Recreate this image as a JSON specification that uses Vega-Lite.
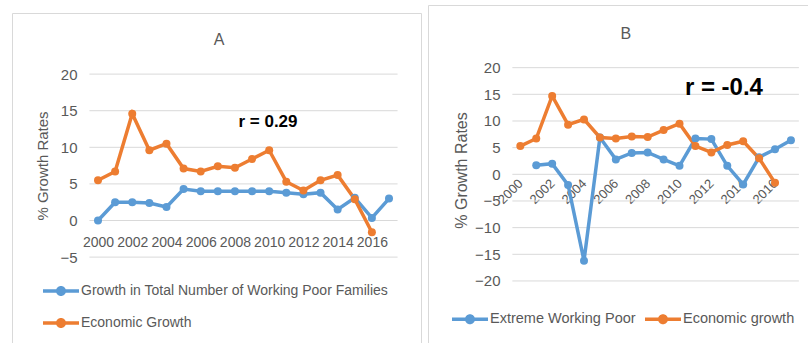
{
  "$schema": "https://vega.github.io/schema/vega-lite/v6.json",
  "background": "white",
  "padding": {"left": 11, "top": 4, "right": 0, "bottom": 0},
  "spacing": 5,
  "config": {
    "view": {"stroke": "#d9d9d9", "strokeWidth": 1},
    "font": "Liberation Sans",
    "axis": {"grid": false, "ticks": false, "domain": false, "labelColor": "#595959", "labelOverlap": false, "labelBound": false, "labelFlush": false, "titleColor": "#595959", "titleFontWeight": "normal"}
  },
  "datasets": {
    "a": [
      {"year": 2000, "series": "Growth in Total Number of Working Poor Families", "value": 0.0},
      {"year": 2001, "series": "Growth in Total Number of Working Poor Families", "value": 2.5},
      {"year": 2002, "series": "Growth in Total Number of Working Poor Families", "value": 2.5},
      {"year": 2003, "series": "Growth in Total Number of Working Poor Families", "value": 2.4},
      {"year": 2004, "series": "Growth in Total Number of Working Poor Families", "value": 1.85},
      {"year": 2005, "series": "Growth in Total Number of Working Poor Families", "value": 4.3},
      {"year": 2006, "series": "Growth in Total Number of Working Poor Families", "value": 4.0},
      {"year": 2007, "series": "Growth in Total Number of Working Poor Families", "value": 4.0},
      {"year": 2008, "series": "Growth in Total Number of Working Poor Families", "value": 4.0},
      {"year": 2009, "series": "Growth in Total Number of Working Poor Families", "value": 4.0},
      {"year": 2010, "series": "Growth in Total Number of Working Poor Families", "value": 4.0},
      {"year": 2011, "series": "Growth in Total Number of Working Poor Families", "value": 3.8},
      {"year": 2012, "series": "Growth in Total Number of Working Poor Families", "value": 3.6},
      {"year": 2013, "series": "Growth in Total Number of Working Poor Families", "value": 3.8},
      {"year": 2014, "series": "Growth in Total Number of Working Poor Families", "value": 1.5},
      {"year": 2015, "series": "Growth in Total Number of Working Poor Families", "value": 3.1},
      {"year": 2016, "series": "Growth in Total Number of Working Poor Families", "value": 0.35},
      {"year": 2017, "series": "Growth in Total Number of Working Poor Families", "value": 3.0},
      {"year": 2000, "series": "Economic Growth", "value": 5.5},
      {"year": 2001, "series": "Economic Growth", "value": 6.7},
      {"year": 2002, "series": "Economic Growth", "value": 14.6},
      {"year": 2003, "series": "Economic Growth", "value": 9.6},
      {"year": 2004, "series": "Economic Growth", "value": 10.5},
      {"year": 2005, "series": "Economic Growth", "value": 7.1},
      {"year": 2006, "series": "Economic Growth", "value": 6.7},
      {"year": 2007, "series": "Economic Growth", "value": 7.4},
      {"year": 2008, "series": "Economic Growth", "value": 7.2},
      {"year": 2009, "series": "Economic Growth", "value": 8.4},
      {"year": 2010, "series": "Economic Growth", "value": 9.6},
      {"year": 2011, "series": "Economic Growth", "value": 5.3},
      {"year": 2012, "series": "Economic Growth", "value": 4.1},
      {"year": 2013, "series": "Economic Growth", "value": 5.5},
      {"year": 2014, "series": "Economic Growth", "value": 6.2},
      {"year": 2015, "series": "Economic Growth", "value": 2.9},
      {"year": 2016, "series": "Economic Growth", "value": -1.6}
    ],
    "b": [
      {"year": 2001, "series": "Extreme Working Poor", "value": 1.7},
      {"year": 2002, "series": "Extreme Working Poor", "value": 2.0},
      {"year": 2003, "series": "Extreme Working Poor", "value": -2.0},
      {"year": 2004, "series": "Extreme Working Poor", "value": -16.2},
      {"year": 2005, "series": "Extreme Working Poor", "value": 6.9},
      {"year": 2006, "series": "Extreme Working Poor", "value": 2.8},
      {"year": 2007, "series": "Extreme Working Poor", "value": 4.0},
      {"year": 2008, "series": "Extreme Working Poor", "value": 4.1},
      {"year": 2009, "series": "Extreme Working Poor", "value": 2.8},
      {"year": 2010, "series": "Extreme Working Poor", "value": 1.6},
      {"year": 2011, "series": "Extreme Working Poor", "value": 6.7},
      {"year": 2012, "series": "Extreme Working Poor", "value": 6.6},
      {"year": 2013, "series": "Extreme Working Poor", "value": 1.6},
      {"year": 2014, "series": "Extreme Working Poor", "value": -1.9},
      {"year": 2015, "series": "Extreme Working Poor", "value": 3.2},
      {"year": 2016, "series": "Extreme Working Poor", "value": 4.7},
      {"year": 2017, "series": "Extreme Working Poor", "value": 6.4},
      {"year": 2000, "series": "Economic growth", "value": 5.3},
      {"year": 2001, "series": "Economic growth", "value": 6.7},
      {"year": 2002, "series": "Economic growth", "value": 14.7},
      {"year": 2003, "series": "Economic growth", "value": 9.3},
      {"year": 2004, "series": "Economic growth", "value": 10.3},
      {"year": 2005, "series": "Economic growth", "value": 6.9},
      {"year": 2006, "series": "Economic growth", "value": 6.7},
      {"year": 2007, "series": "Economic growth", "value": 7.1},
      {"year": 2008, "series": "Economic growth", "value": 7.0},
      {"year": 2009, "series": "Economic growth", "value": 8.3},
      {"year": 2010, "series": "Economic growth", "value": 9.5},
      {"year": 2011, "series": "Economic growth", "value": 5.3},
      {"year": 2012, "series": "Economic growth", "value": 4.1},
      {"year": 2013, "series": "Economic growth", "value": 5.5},
      {"year": 2014, "series": "Economic growth", "value": 6.2},
      {"year": 2015, "series": "Economic growth", "value": 3.0},
      {"year": 2016, "series": "Economic growth", "value": -1.6}
    ],
    "ga": [{"value": -5}, {"value": 0}, {"value": 5}, {"value": 10}, {"value": 15}, {"value": 20}],
    "gb": [{"value": -20}, {"value": -15}, {"value": -10}, {"value": -5}, {"value": 0}, {"value": 5}, {"value": 10}, {"value": 15}, {"value": 20}]
  },
  "resolve": {
    "scale": {"x": "independent", "y": "independent", "color": "independent"},
    "legend": {"color": "independent"}
  },
  "hconcat": [
    {
      "spacing": 5,
      "vconcat": [
        {
          "width": 409,
          "height": 2,
          "view": {"stroke": null},
          "data": {"values": []},
          "mark": {"type": "rule"},
          "encoding": {}
        },
        {
          "width": 409,
          "height": 332,
          "layer": [
            {
              "data": {"name": "ga"},
              "mark": {"type": "rule", "color": "#d9d9d9", "strokeWidth": 1},
              "encoding": {
                "y": {"field": "value", "type": "quantitative", "scale": {"domain": [-17.01, 28.35], "nice": false, "zero": false},
                  "axis": {"values": [-5, 0, 5, 10, 15, 20], "offset": -67, "labelPadding": 2, "labelFontSize": 15, "title": null}},
                "x": {"datum": 1999.5, "type": "quantitative", "scale": {"domain": [1994.976, 2018.869], "nice": false, "zero": false},
                  "axis": {"values": [2000, 2002, 2004, 2006, 2008, 2010, 2012, 2014, 2016], "format": "d", "offset": -111,
                    "labelPadding": 1, "labelBaseline": "top", "labelFontSize": 14, "title": null}},
                "x2": {"datum": 2017.5}
              }
            },
            {
              "data": {"name": "a"},
              "mark": {"type": "line", "strokeWidth": 3.5, "point": {"filled": true, "size": 64, "opacity": 1}},
              "encoding": {
                "x": {"field": "year", "type": "quantitative", "scale": {"domain": [1994.976, 2018.869], "nice": false, "zero": false},
                  "axis": {"values": [2000, 2002, 2004, 2006, 2008, 2010, 2012, 2014, 2016], "format": "d", "offset": -111,
                    "labelPadding": 1, "labelBaseline": "top", "labelFontSize": 14, "title": null}},
                "y": {"field": "value", "type": "quantitative", "scale": {"domain": [-17.01, 28.35], "nice": false, "zero": false},
                  "axis": {"values": [-5, 0, 5, 10, 15, 20], "offset": -67, "labelPadding": 2, "labelFontSize": 15, "title": null}},
                "color": {
                  "field": "series", "type": "nominal",
                  "scale": {"domain": ["Growth in Total Number of Working Poor Families", "Economic Growth"], "range": ["#5B9BD5", "#ED7D31"]},
                  "legend": {
                    "orient": "none", "legendX": 39, "legendY": 276, "direction": "vertical", "title": null,
                    "padding": 0, "rowPadding": 15, "labelOffset": 10, "labelFontSize": 14, "labelColor": "#595959", "labelLimit": 0,
                    "symbolType": "M-1.8,-0.18H1.8V0.18H-1.8Z M0.5,0A0.5,0.5 0 1,1 -0.5,0A0.5,0.5 0 1,1 0.5,0Z",
                    "symbolSize": 400, "symbolStrokeWidth": 0,
                    "encode": {"symbols": {"update": {
                      "fill": [{"test": "datum.value === 'Economic Growth'", "value": "#ED7D31"}, {"value": "#5B9BD5"}],
                      "stroke": {"value": "transparent"}, "strokeWidth": {"value": 0}, "opacity": {"value": 1}, "fillOpacity": {"value": 1}
                    }}}
                  }
                }
              }
            },
            {
              "data": {"values": [{"year": 2007.07, "value": 24.66, "label": "A"}]},
              "mark": {"type": "text", "fontSize": 16, "color": "#595959", "baseline": "middle", "align": "center"},
              "encoding": {
                "x": {"field": "year", "type": "quantitative", "scale": {"domain": [1994.976, 2018.869], "nice": false, "zero": false},
                  "axis": {"values": [2000, 2002, 2004, 2006, 2008, 2010, 2012, 2014, 2016], "format": "d", "offset": -111,
                    "labelPadding": 1, "labelBaseline": "top", "labelFontSize": 14, "title": null}},
                "y": {"field": "value", "type": "quantitative", "scale": {"domain": [-17.01, 28.35], "nice": false, "zero": false},
                  "axis": {"values": [-5, 0, 5, 10, 15, 20], "offset": -67, "labelPadding": 2, "labelFontSize": 15, "title": null}},
                "text": {"field": "label"}
              }
            },
            {
              "data": {"values": [{"year": 1996.787, "value": 7.45, "label": "% Growth Rates"}]},
              "mark": {"type": "text", "fontSize": 15, "color": "#595959", "baseline": "middle", "align": "center", "angle": 270},
              "encoding": {
                "x": {"field": "year", "type": "quantitative", "scale": {"domain": [1994.976, 2018.869], "nice": false, "zero": false},
                  "axis": {"values": [2000, 2002, 2004, 2006, 2008, 2010, 2012, 2014, 2016], "format": "d", "offset": -111,
                    "labelPadding": 1, "labelBaseline": "top", "labelFontSize": 14, "title": null}},
                "y": {"field": "value", "type": "quantitative", "scale": {"domain": [-17.01, 28.35], "nice": false, "zero": false},
                  "axis": {"values": [-5, 0, 5, 10, 15, 20], "offset": -67, "labelPadding": 2, "labelFontSize": 15, "title": null}},
                "text": {"field": "label"}
              }
            },
            {
              "data": {"values": [{"year": 2009.93, "value": 13.46, "label": "r = 0.29"}]},
              "mark": {"type": "text", "fontSize": 17, "fontWeight": "bold", "color": "#000000", "baseline": "middle", "align": "center"},
              "encoding": {
                "x": {"field": "year", "type": "quantitative", "scale": {"domain": [1994.976, 2018.869], "nice": false, "zero": false},
                  "axis": {"values": [2000, 2002, 2004, 2006, 2008, 2010, 2012, 2014, 2016], "format": "d", "offset": -111,
                    "labelPadding": 1, "labelBaseline": "top", "labelFontSize": 14, "title": null}},
                "y": {"field": "value", "type": "quantitative", "scale": {"domain": [-17.01, 28.35], "nice": false, "zero": false},
                  "axis": {"values": [-5, 0, 5, 10, 15, 20], "offset": -67, "labelPadding": 2, "labelFontSize": 15, "title": null}},
                "text": {"field": "label"}
              }
            }
          ]
        }
      ]
    },
    {
      "width": 383,
      "height": 339,
      "layer": [
        {
          "data": {"name": "gb"},
          "mark": {"type": "rule", "color": "#d9d9d9", "strokeWidth": 1},
          "encoding": {
            "y": {"field": "value", "type": "quantitative", "scale": {"domain": [-31.82, 31.75], "nice": false, "zero": false},
              "axis": {"values": [-20, -15, -10, -5, 0, 5, 10, 15, 20], "offset": -74, "labelPadding": 2, "labelFontSize": 15,
                "title": "% Growth Rates", "titleX": -41, "titleY": 165, "titleBaseline": "middle", "titleAngle": -90, "titleFontSize": 16}},
            "x": {"datum": 1999.5, "type": "quantitative", "scale": {"domain": [1994.2, 2018.26], "nice": false, "zero": false},
              "axis": {"values": [2000, 2002, 2004, 2006, 2008, 2010, 2012, 2014, 2016], "format": "d", "offset": -165,
                "labelAngle": -45, "labelAlign": "right", "labelBaseline": "middle", "labelPadding": 2, "labelFontSize": 13, "title": null}},
            "x2": {"datum": 2017.5}
          }
        },
        {
          "data": {"name": "b"},
          "mark": {"type": "line", "strokeWidth": 3.5, "point": {"filled": true, "size": 64, "opacity": 1}},
          "encoding": {
            "x": {"field": "year", "type": "quantitative", "scale": {"domain": [1994.2, 2018.26], "nice": false, "zero": false},
              "axis": {"values": [2000, 2002, 2004, 2006, 2008, 2010, 2012, 2014, 2016], "format": "d", "offset": -165,
                "labelAngle": -45, "labelAlign": "right", "labelBaseline": "middle", "labelPadding": 2, "labelFontSize": 13, "title": null}},
            "y": {"field": "value", "type": "quantitative", "scale": {"domain": [-31.82, 31.75], "nice": false, "zero": false},
              "axis": {"values": [-20, -15, -10, -5, 0, 5, 10, 15, 20], "offset": -74, "labelPadding": 2, "labelFontSize": 15,
                "title": "% Growth Rates", "titleX": -41, "titleY": 165, "titleBaseline": "middle", "titleAngle": -90, "titleFontSize": 16}},
            "color": {
              "field": "series", "type": "nominal",
              "scale": {"domain": ["Extreme Working Poor", "Economic growth"], "range": ["#5B9BD5", "#ED7D31"]},
              "legend": {
                "orient": "none", "legendX": 32, "legendY": 304, "direction": "horizontal", "columns": 2, "title": null,
                "padding": 0, "columnPadding": 9, "labelOffset": 10, "labelFontSize": 14.5, "labelColor": "#595959", "labelLimit": 0,
                "symbolType": "M-1.8,-0.18H1.8V0.18H-1.8Z M0.5,0A0.5,0.5 0 1,1 -0.5,0A0.5,0.5 0 1,1 0.5,0Z",
                "symbolSize": 400, "symbolStrokeWidth": 0,
                "encode": {"symbols": {"update": {
                  "fill": [{"test": "datum.value === 'Economic growth'", "value": "#ED7D31"}, {"value": "#5B9BD5"}],
                  "stroke": {"value": "transparent"}, "strokeWidth": {"value": 0}, "opacity": {"value": 1}, "fillOpacity": {"value": 1}
                }}}
              }
            }
          }
        },
        {
          "data": {"values": [{"year": 2006.62, "value": 26.31, "label": "B"}]},
          "mark": {"type": "text", "fontSize": 16, "color": "#595959", "baseline": "middle", "align": "center"},
          "encoding": {
            "x": {"field": "year", "type": "quantitative", "scale": {"domain": [1994.2, 2018.26], "nice": false, "zero": false},
              "axis": {"values": [2000, 2002, 2004, 2006, 2008, 2010, 2012, 2014, 2016], "format": "d", "offset": -165,
                "labelAngle": -45, "labelAlign": "right", "labelBaseline": "middle", "labelPadding": 2, "labelFontSize": 13, "title": null}},
            "y": {"field": "value", "type": "quantitative", "scale": {"domain": [-31.82, 31.75], "nice": false, "zero": false},
              "axis": {"values": [-20, -15, -10, -5, 0, 5, 10, 15, 20], "offset": -74, "labelPadding": 2, "labelFontSize": 15,
                "title": "% Growth Rates", "titleX": -41, "titleY": 165, "titleBaseline": "middle", "titleAngle": -90, "titleFontSize": 16}},
            "text": {"field": "label"}
          }
        },
        {
          "data": {"values": [{"year": 2012.79, "value": 16.18, "label": "r = -0.4"}]},
          "mark": {"type": "text", "fontSize": 24, "fontWeight": "bold", "color": "#000000", "baseline": "middle", "align": "center"},
          "encoding": {
            "x": {"field": "year", "type": "quantitative", "scale": {"domain": [1994.2, 2018.26], "nice": false, "zero": false},
              "axis": {"values": [2000, 2002, 2004, 2006, 2008, 2010, 2012, 2014, 2016], "format": "d", "offset": -165,
                "labelAngle": -45, "labelAlign": "right", "labelBaseline": "middle", "labelPadding": 2, "labelFontSize": 13, "title": null}},
            "y": {"field": "value", "type": "quantitative", "scale": {"domain": [-31.82, 31.75], "nice": false, "zero": false},
              "axis": {"values": [-20, -15, -10, -5, 0, 5, 10, 15, 20], "offset": -74, "labelPadding": 2, "labelFontSize": 15,
                "title": "% Growth Rates", "titleX": -41, "titleY": 165, "titleBaseline": "middle", "titleAngle": -90, "titleFontSize": 16}},
            "text": {"field": "label"}
          }
        }
      ]
    }
  ]
}
